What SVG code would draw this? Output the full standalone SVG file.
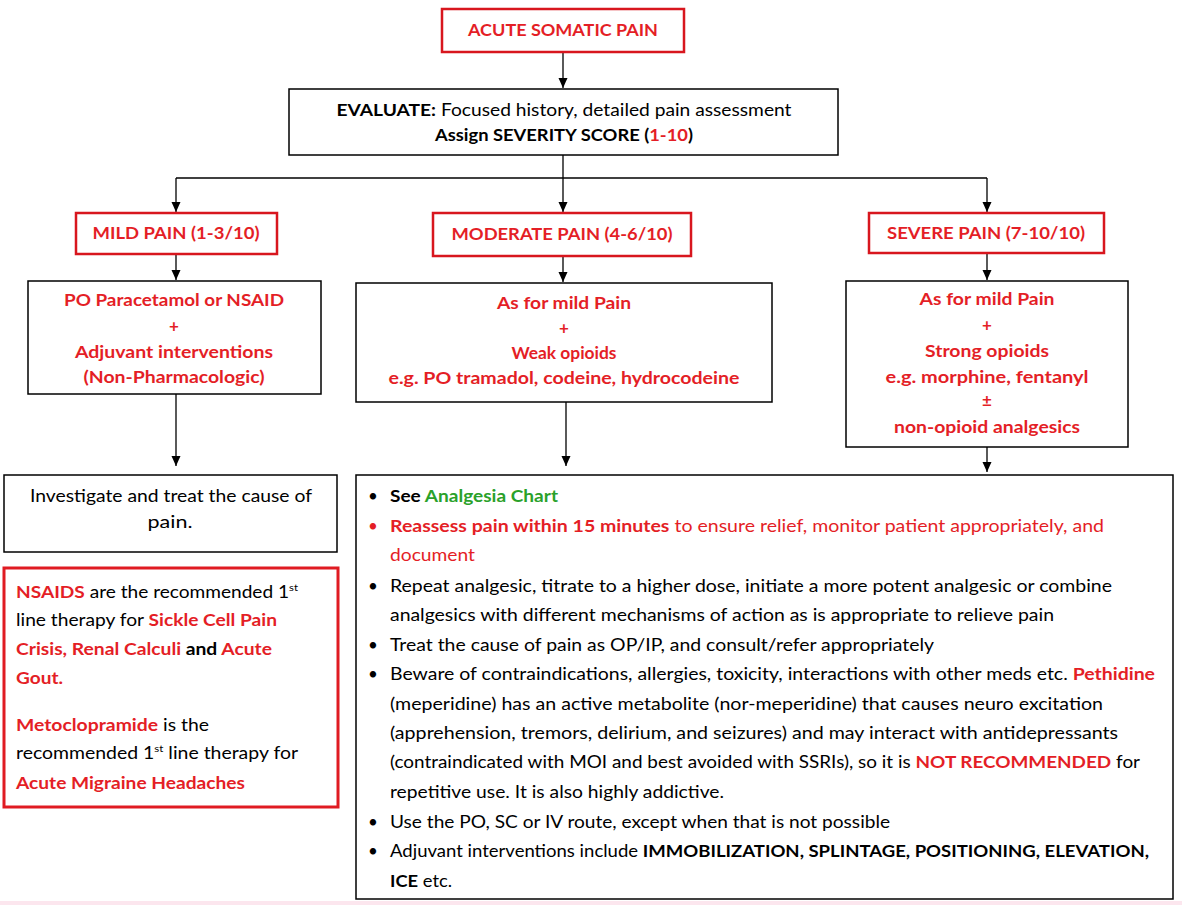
<svg xmlns="http://www.w3.org/2000/svg" width="1182" height="905" viewBox="0 0 1182 905">
<defs>
<marker id="ah" markerUnits="userSpaceOnUse" markerWidth="10" markerHeight="10" refX="10" refY="4.5" orient="auto">
<path d="M0,0 L10,4.5 L0,9 z" fill="#000"/>
</marker>
<style>
text{font-family:Lato,"Liberation Sans",sans-serif;font-size:17px;fill:#000}
.b{font-weight:bold}
.r{fill:#e41e26}
.g{fill:#2aa12a}
.c{text-anchor:middle}
.rb{fill:#fff;stroke:#d8161e;stroke-width:2.5}
.kb{fill:#fff;stroke:#000;stroke-width:1.5}
.sup{font-size:10px}
#connectors line,#connectors path{stroke:#000;stroke-width:1.3;fill:none}
</style>
</defs>
<rect x="0" y="0" width="1182" height="905" fill="#fff"/>
<rect x="0" y="901" width="1182" height="4" fill="#fce6ee"/>

<g id="connectors">
<line x1="563" y1="52" x2="563" y2="88" marker-end="url(#ah)"/>
<line x1="563" y1="155" x2="563" y2="178"/>
<line x1="176" y1="178" x2="987" y2="178"/>
<line x1="176" y1="178" x2="176" y2="212" marker-end="url(#ah)"/>
<line x1="563" y1="178" x2="563" y2="212" marker-end="url(#ah)"/>
<line x1="987" y1="178" x2="987" y2="212" marker-end="url(#ah)"/>
<line x1="176" y1="254" x2="176" y2="280" marker-end="url(#ah)"/>
<line x1="563" y1="256" x2="563" y2="282" marker-end="url(#ah)"/>
<line x1="987" y1="253" x2="987" y2="280" marker-end="url(#ah)"/>
<line x1="176" y1="394" x2="176" y2="466" marker-end="url(#ah)"/>
<line x1="566" y1="402" x2="566" y2="466" marker-end="url(#ah)"/>
<line x1="987" y1="447" x2="987" y2="472" marker-end="url(#ah)"/>
</g>

<g id="acute">
<rect class="rb" x="442" y="9" width="242" height="43"/>
<text class="b r c" x="563" y="36" textLength="190" lengthAdjust="spacingAndGlyphs">ACUTE SOMATIC PAIN</text>
</g>

<g id="evaluate">
<rect class="kb" x="289" y="89" width="549" height="66"/>
<text class="c" x="564" y="116" textLength="455" lengthAdjust="spacingAndGlyphs"><tspan class="b">EVALUATE:</tspan> Focused history, detailed pain assessment</text>
<text class="c b" x="564" y="141" textLength="258" lengthAdjust="spacingAndGlyphs">Assign SEVERITY SCORE (<tspan class="r">1-10</tspan>)</text>
</g>

<g id="mild">
<rect class="rb" x="76" y="213" width="201" height="41"/>
<text class="b r c" x="176" y="239" textLength="167" lengthAdjust="spacingAndGlyphs">MILD PAIN (1-3/10)</text>
</g>

<g id="moderate">
<rect class="rb" x="433" y="213" width="258" height="43"/>
<text class="b r c" x="562" y="240" textLength="221" lengthAdjust="spacingAndGlyphs">MODERATE PAIN (4-6/10)</text>
</g>

<g id="severe">
<rect class="rb" x="869" y="213" width="235" height="40"/>
<text class="b r c" x="986" y="239" textLength="198" lengthAdjust="spacingAndGlyphs">SEVERE PAIN (7-10/10)</text>
</g>

<g id="mild-treatment">
<rect class="kb" x="28" y="281" width="293" height="113"/>
<text class="b r c" x="174" y="306" textLength="220" lengthAdjust="spacingAndGlyphs">PO Paracetamol or NSAID</text>
<text class="b r c" x="174" y="332">+</text>
<text class="b r c" x="174" y="358" textLength="198" lengthAdjust="spacingAndGlyphs">Adjuvant interventions</text>
<text class="b r c" x="174" y="383" textLength="181" lengthAdjust="spacingAndGlyphs">(Non-Pharmacologic)</text>
</g>

<g id="moderate-treatment">
<rect class="kb" x="356" y="283" width="416" height="119"/>
<text class="b r c" x="564" y="309" textLength="134" lengthAdjust="spacingAndGlyphs">As for mild Pain</text>
<text class="b r c" x="564" y="334">+</text>
<text class="b r c" x="564" y="359" textLength="105" lengthAdjust="spacingAndGlyphs">Weak opioids</text>
<text class="b r c" x="564" y="384" textLength="351" lengthAdjust="spacingAndGlyphs">e.g. PO tramadol, codeine, hydrocodeine</text>
</g>

<g id="severe-treatment">
<rect class="kb" x="846" y="281" width="282" height="166"/>
<text class="b r c" x="987" y="305" textLength="135" lengthAdjust="spacingAndGlyphs">As for mild Pain</text>
<text class="b r c" x="987" y="331">+</text>
<text class="b r c" x="987" y="357" textLength="124" lengthAdjust="spacingAndGlyphs">Strong opioids</text>
<text class="b r c" x="987" y="383" textLength="203" lengthAdjust="spacingAndGlyphs">e.g. morphine, fentanyl</text>
<text class="b r c" x="987" y="407">±</text>
<text class="b r c" x="987" y="433" textLength="186" lengthAdjust="spacingAndGlyphs">non-opioid analgesics</text>
</g>

<g id="investigate">
<rect class="kb" x="4" y="475" width="333" height="77"/>
<text class="c" x="171" y="502" textLength="282" lengthAdjust="spacingAndGlyphs">Investigate and treat the cause of</text>
<text class="c" x="170" y="528" textLength="45" lengthAdjust="spacingAndGlyphs">pain.</text>
</g>

<g id="nsaids-note">
<rect x="4" y="568" width="334" height="239" fill="#fff" stroke="#e01b22" stroke-width="3"/>
<text x="16" y="598" textLength="282" lengthAdjust="spacingAndGlyphs"><tspan class="b r">NSAIDS</tspan> are the recommended 1<tspan class="sup" dy="-7">st</tspan></text>
<text x="16" y="626" textLength="261" lengthAdjust="spacingAndGlyphs">line therapy for <tspan class="b r">Sickle Cell Pain</tspan></text>
<text x="16" y="655" class="b" textLength="256" lengthAdjust="spacingAndGlyphs"><tspan class="r">Crisis, Renal Calculi</tspan> and <tspan class="r">Acute</tspan></text>
<text x="16" y="684" class="b r" textLength="47" lengthAdjust="spacingAndGlyphs">Gout.</text>
<text x="16" y="731" textLength="193" lengthAdjust="spacingAndGlyphs"><tspan class="b r">Metoclopramide</tspan> is the</text>
<text x="16" y="759" textLength="282" lengthAdjust="spacingAndGlyphs">recommended 1<tspan class="sup" dy="-7">st</tspan><tspan dy="7"> line therapy for</tspan></text>
<text x="16" y="789" class="b r" textLength="229" lengthAdjust="spacingAndGlyphs">Acute Migraine Headaches</text>
</g>

<g id="actions">
<rect class="kb" x="356" y="475" width="817" height="424"/>
<text x="368" y="502">•</text>
<text x="390" y="502" class="b" textLength="168" lengthAdjust="spacingAndGlyphs">See <tspan class="g">Analgesia Chart</tspan></text>
<text x="368" y="532" class="r">•</text>
<text x="390" y="532" class="r" textLength="714" lengthAdjust="spacingAndGlyphs"><tspan class="b">Reassess pain within 15 minutes</tspan> to ensure relief, monitor patient appropriately, and</text>
<text x="390" y="561" class="r" textLength="85" lengthAdjust="spacingAndGlyphs">document</text>
<text x="368" y="592">•</text>
<text x="390" y="592" textLength="722" lengthAdjust="spacingAndGlyphs">Repeat analgesic, titrate to a higher dose, initiate a more potent analgesic or combine</text>
<text x="390" y="621" textLength="664" lengthAdjust="spacingAndGlyphs">analgesics with different mechanisms of action as is appropriate to relieve pain</text>
<text x="368" y="651">•</text>
<text x="390" y="651" textLength="544" lengthAdjust="spacingAndGlyphs">Treat the cause of pain as OP/IP, and consult/refer appropriately</text>
<text x="368" y="680">•</text>
<text x="390" y="680" textLength="765" lengthAdjust="spacingAndGlyphs">Beware of contraindications, allergies, toxicity, interactions with other meds etc. <tspan class="b r">Pethidine</tspan></text>
<text x="390" y="710" textLength="713" lengthAdjust="spacingAndGlyphs">(meperidine) has an active metabolite (nor-meperidine) that causes neuro excitation</text>
<text x="390" y="739" textLength="728" lengthAdjust="spacingAndGlyphs">(apprehension, tremors, delirium, and seizures) and may interact with antidepressants</text>
<text x="390" y="768" textLength="750" lengthAdjust="spacingAndGlyphs">(contraindicated with MOI and best avoided with SSRIs), so it is <tspan class="b r">NOT RECOMMENDED</tspan> for</text>
<text x="390" y="798" textLength="334" lengthAdjust="spacingAndGlyphs">repetitive use. It is also highly addictive.</text>
<text x="368" y="828">•</text>
<text x="390" y="828" textLength="500" lengthAdjust="spacingAndGlyphs">Use the PO, SC or IV route, except when that is not possible</text>
<text x="368" y="857">•</text>
<text x="390" y="857" textLength="759" lengthAdjust="spacingAndGlyphs">Adjuvant interventions include <tspan class="b">IMMOBILIZATION, SPLINTAGE, POSITIONING, ELEVATION,</tspan></text>
<text x="390" y="887" textLength="62" lengthAdjust="spacingAndGlyphs"><tspan class="b">ICE</tspan> etc.</text>
</g>
</svg>
